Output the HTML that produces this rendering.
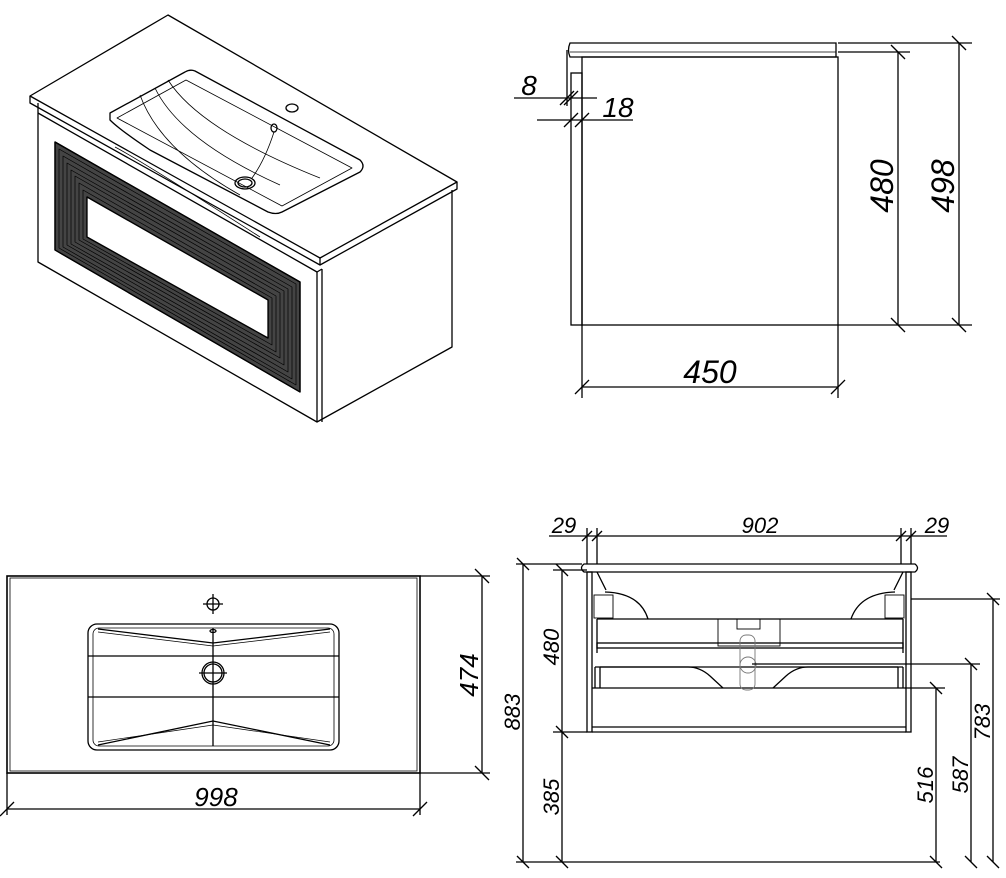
<!DOCTYPE html>
<html><head><meta charset="utf-8"><style>
html,body{margin:0;padding:0;background:#fff;}
svg{display:block;}
text{font-family:"Liberation Sans",sans-serif;font-style:italic;fill:#000;}
</style></head><body>
<svg width="1006" height="878" viewBox="0 0 1006 878" xmlns="http://www.w3.org/2000/svg" fill="none" stroke="#000" stroke-width="1.3">
<!-- ISOMETRIC -->
<g stroke-linejoin="round">
<polygon points="168,15 457,182 320,258 30,96" fill="#fff"/>
<polyline points="30,96 30,103 320,265 457,189 457,182"/>
<line x1="320" y1="258" x2="320" y2="265"/>
<polyline points="38,103 38,262 317,422 452,347 452,190"/>
<polyline points="317,272 317,422"/>
<polyline points="38,113 317,272 322,269"/>
<line x1="322" y1="269" x2="322" y2="422"/>
<!-- basin -->
<path d="M110,113 L185,72 Q190,69 195,71 L360,160 Q366,166 360,172 L282,212 Q276,215 268,212 L150,150 Q120,130 110,120 Z"/>
<path d="M117,118 L186,80 L352,168 L282,206 Z" stroke-width="0.8"/>
<path d="M140,95 Q160,150 240,195" stroke-width="0.8"/>
<path d="M155,88 Q180,140 280,185" stroke-width="0.8"/>
<path d="M168,80 Q200,130 320,178" stroke-width="0.8"/>
<ellipse cx="245" cy="183" rx="10" ry="6"/>
<ellipse cx="245" cy="183" rx="7" ry="4"/>
<ellipse cx="292" cy="108" rx="6" ry="4"/>
<ellipse cx="274" cy="128" rx="3" ry="4"/>
<path d="M274,132 Q265,160 252,178" stroke-width="0.8"/>
<path d="M115,147 Q140,160 260,237" stroke-width="0.8"/>
<!-- drawer frame -->
<path fill-rule="evenodd" fill="#444" d="M55,142 L300,282 L300,392 L55,250 Z M87,197 L268,300 L268,338 L87,237 Z"/>
<g stroke-width="0.7" stroke="#000">
<polygon points="59,149 296,284 296,385 59,248"/>
<polygon points="63,156 292,287 292,379 63,247"/>
<polygon points="67,163 288,289 288,372 67,245"/>
<polygon points="71,170 284,291 284,365 71,244"/>
<polygon points="75,176 280,293 280,358 75,242"/>
<polygon points="79,183 276,296 276,352 79,240"/>
<polygon points="83,190 272,298 272,345 83,239"/>
</g>
<polygon points="55,142 300,282 300,392 55,250"/>
<polygon points="87,197 268,300 268,338 87,237" fill="#fff"/>
</g>

<!-- SIDE VIEW top right -->
<path d="M570,43 L836,43 L836,57 L570,57 Q567,50 570,43 Z"/>
<line x1="570" y1="52" x2="836" y2="52" stroke-width="0.8"/>
<line x1="567" y1="50" x2="567" y2="106"/>
<rect x="582" y="57" width="256" height="268"/>
<rect x="571" y="73" width="11" height="252"/>
<line x1="838" y1="43" x2="972" y2="43"/>
<line x1="838" y1="52" x2="910" y2="52"/>
<line x1="838" y1="325" x2="972" y2="325"/>
<line x1="898" y1="52" x2="898" y2="325"/>
<line x1="959" y1="43" x2="959" y2="325"/>
<line x1="891" y1="45" x2="905" y2="59"/><line x1="891" y1="318" x2="905" y2="332"/>
<line x1="952" y1="36" x2="966" y2="50"/><line x1="952" y1="318" x2="966" y2="332"/>
<line x1="582" y1="325" x2="582" y2="398"/><line x1="838" y1="325" x2="838" y2="398"/>
<line x1="582" y1="387" x2="838" y2="387"/>
<line x1="575" y1="394" x2="589" y2="380"/><line x1="831" y1="394" x2="845" y2="380"/>
<line x1="514" y1="98" x2="597" y2="98"/>
<line x1="537" y1="120" x2="633" y2="120"/>
<line x1="560" y1="105" x2="574" y2="91"/><line x1="564" y1="105" x2="578" y2="91"/>
<line x1="564" y1="127" x2="578" y2="113"/><line x1="575" y1="127" x2="589" y2="113"/>
<g stroke="none" font-size="32">
<text x="710" y="383" text-anchor="middle">450</text>
<text x="529" y="95" text-anchor="middle" font-size="28">8</text>
<text x="618" y="117" text-anchor="middle" font-size="28">18</text>
<text transform="translate(893,186) rotate(-90)" text-anchor="middle">480</text>
<text transform="translate(954,186) rotate(-90)" text-anchor="middle">498</text>
</g>

<!-- TOP VIEW bottom left -->
<rect x="7" y="576" width="413" height="197" stroke-width="1.6"/>
<rect x="10" y="578" width="407" height="193" stroke-width="0.8"/>
<rect x="88" y="624" width="251" height="126" rx="9"/>
<rect x="93" y="628" width="241" height="118" rx="6" stroke-width="0.8"/>
<line x1="88" y1="656" x2="339" y2="656"/><line x1="88" y1="697" x2="339" y2="697"/>
<line x1="213" y1="628" x2="213" y2="746"/>
<polyline points="98,629 213,643 330,629" />
<polyline points="98,632 213,646 330,632" stroke-width="0.7"/>
<polyline points="98,745 213,721 330,745"/>
<polyline points="98,742 213,725 330,742" stroke-width="0.7"/>
<circle cx="213" cy="604" r="6"/><line x1="203" y1="604" x2="223" y2="604"/><line x1="213" y1="594" x2="213" y2="614"/>
<ellipse cx="213" cy="631" rx="3" ry="1.5"/>
<circle cx="213" cy="673" r="11"/><circle cx="213" cy="673" r="9"/><line x1="199" y1="673" x2="227" y2="673"/>
<line x1="420" y1="576" x2="490" y2="576"/><line x1="420" y1="773" x2="490" y2="773"/>
<line x1="482" y1="576" x2="482" y2="773"/>
<line x1="475" y1="569" x2="489" y2="583"/><line x1="475" y1="766" x2="489" y2="780"/>
<line x1="7" y1="773" x2="7" y2="815"/><line x1="420" y1="773" x2="420" y2="815"/>
<line x1="7" y1="809" x2="420" y2="809"/>
<line x1="0" y1="816" x2="14" y2="802"/><line x1="413" y1="816" x2="427" y2="802"/>
<g stroke="none" font-size="26">
<text x="216" y="806" text-anchor="middle">998</text>
<text transform="translate(478,675) rotate(-90)" text-anchor="middle">474</text>
</g>

<!-- FRONT VIEW bottom right -->
<path d="M584,564 L915,564 Q920,568 915,572 L584,572 Q579,568 584,564 Z"/>
<rect x="587" y="572" width="5" height="160"/>
<rect x="906" y="572" width="5" height="160"/>
<line x1="592" y1="727" x2="906" y2="727"/><line x1="592" y1="732" x2="906" y2="732"/>
<line x1="592" y1="688" x2="906" y2="688"/>
<line x1="597" y1="619" x2="903" y2="619"/>
<rect x="597" y="643" width="306" height="5"/>
<line x1="597" y1="619" x2="597" y2="653"/><line x1="903" y1="619" x2="903" y2="653"/>
<line x1="595" y1="667" x2="903" y2="667"/>
<line x1="595" y1="667" x2="595" y2="688"/><line x1="600" y1="667" x2="600" y2="688"/>
<line x1="898" y1="667" x2="898" y2="688"/><line x1="903" y1="667" x2="903" y2="688"/>
<path d="M600,667 L688,667 Q700,667 710,676 L723,688"/>
<path d="M898,667 L808,667 Q796,667 786,676 L773,688"/>
<path d="M605,592 Q640,593 648,619"/><path d="M895,592 Q860,593 851,619"/>
<line x1="597" y1="572" x2="606" y2="590"/><line x1="903" y1="572" x2="894" y2="590"/>
<rect x="594" y="595" width="19" height="23" stroke-width="0.9"/>
<rect x="885" y="595" width="19" height="23" stroke-width="0.9"/>
<rect x="718" y="619" width="62" height="27" stroke-width="0.9"/>
<rect x="737" y="619" width="23" height="10" stroke-width="0.9"/>
<g stroke="#777" stroke-width="0.9"><rect x="740" y="635" width="15" height="55" rx="6"/><circle cx="748" cy="665" r="8"/></g>
<!-- dims -->
<line x1="587" y1="528" x2="587" y2="564"/><line x1="597" y1="528" x2="597" y2="564"/>
<line x1="901" y1="528" x2="901" y2="564"/><line x1="911" y1="528" x2="911" y2="564"/>
<line x1="549" y1="536" x2="947" y2="536"/>
<line x1="582" y1="541" x2="592" y2="531"/><line x1="592" y1="541" x2="602" y2="531"/>
<line x1="896" y1="541" x2="906" y2="531"/><line x1="906" y1="541" x2="916" y2="531"/>
<line x1="516" y1="564" x2="582" y2="564"/>
<line x1="553" y1="570" x2="587" y2="570"/>
<line x1="553" y1="732" x2="587" y2="732"/>
<line x1="516" y1="862" x2="940" y2="862"/>
<line x1="523" y1="564" x2="523" y2="862"/>
<line x1="562" y1="570" x2="562" y2="862"/>
<line x1="911" y1="599" x2="1000" y2="599"/>
<line x1="752" y1="664" x2="980" y2="664"/>
<line x1="905" y1="688" x2="945" y2="688"/>
<line x1="993" y1="599" x2="993" y2="862"/>
<line x1="971" y1="664" x2="971" y2="862"/>
<line x1="936" y1="688" x2="936" y2="862"/>
<g>
<line x1="517" y1="558" x2="529" y2="570"/><line x1="517" y1="856" x2="529" y2="868"/>
<line x1="556" y1="564" x2="568" y2="576"/><line x1="556" y1="726" x2="568" y2="738"/><line x1="556" y1="856" x2="568" y2="868"/>
<line x1="987" y1="593" x2="999" y2="605"/><line x1="987" y1="856" x2="999" y2="868"/>
<line x1="965" y1="658" x2="977" y2="670"/><line x1="965" y1="856" x2="977" y2="868"/>
<line x1="930" y1="682" x2="942" y2="694"/><line x1="930" y1="856" x2="942" y2="868"/>
</g>
<g stroke="none" font-size="22">
<text x="564" y="533" text-anchor="middle">29</text>
<text x="760" y="533" text-anchor="middle">902</text>
<text x="937" y="533" text-anchor="middle">29</text>
<text transform="translate(520,712) rotate(-90)" text-anchor="middle">883</text>
<text transform="translate(559,647) rotate(-90)" text-anchor="middle">480</text>
<text transform="translate(559,797) rotate(-90)" text-anchor="middle">385</text>
<text transform="translate(933,785) rotate(-90)" text-anchor="middle">516</text>
<text transform="translate(968,775) rotate(-90)" text-anchor="middle">587</text>
<text transform="translate(990,722) rotate(-90)" text-anchor="middle">783</text>
</g>
</svg>
</body></html>
